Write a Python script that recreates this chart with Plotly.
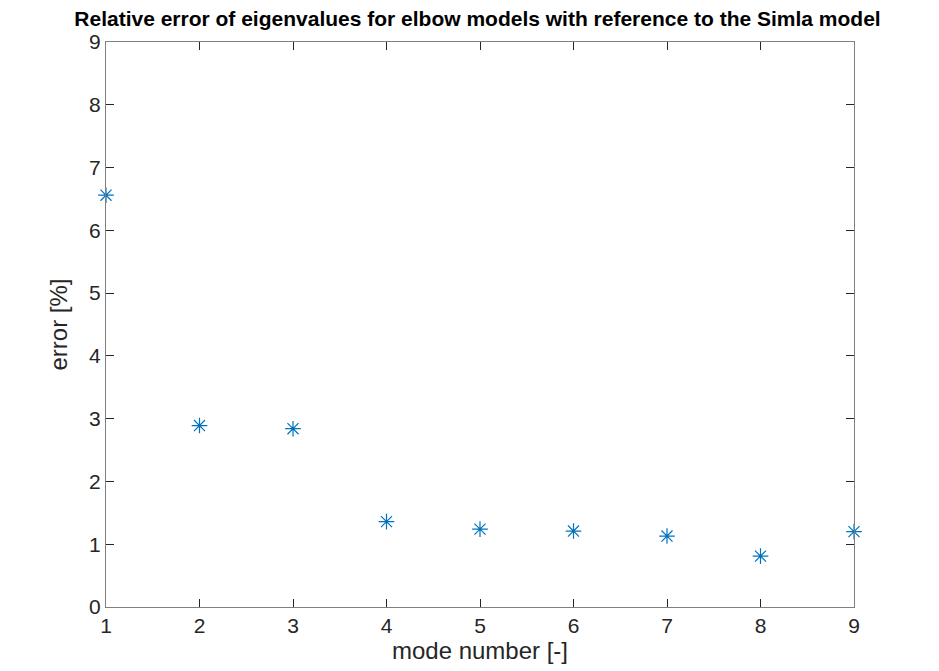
import plotly.graph_objects as go

mode_number = [1, 2, 3, 4, 5, 6, 7, 8, 9]
error_pct = [6.56, 2.89, 2.84, 1.36, 1.24, 1.21, 1.13, 0.81, 1.20]
x_ticks = [1, 2, 3, 4, 5, 6, 7, 8, 9]
y_ticks = [0, 1, 2, 3, 4, 5, 6, 7, 8, 9]

FONT = "Liberation Sans, Arial, Helvetica"

fig = go.Figure()
fig.add_trace(go.Scatter(
    x=mode_number, y=error_pct, mode="markers",
    marker=dict(symbol="asterisk-open", size=13, color="#0072BD",
                line=dict(width=1.2, color="#0072BD")),
    cliponaxis=False, showlegend=False,
))

axis_common = dict(
    showline=True, linecolor="#808080", linewidth=1, mirror="ticks",
    ticks="inside", ticklen=8, tickcolor="#262626", tickwidth=1,
    showgrid=False, zeroline=False,
    tickfont=dict(family=FONT, size=21, color="#262626"),
)

fig.update_layout(
    width=939, height=671,
    paper_bgcolor="white", plot_bgcolor="white",
    margin=dict(l=98, r=93, t=34, b=72),
    title=dict(text="<b>Relative error of eigenvalues for elbow models with reference to the Simla model</b>",
               x=0.5, xanchor="center", y=0.995, yanchor="top",
               font=dict(family=FONT, size=21, color="black")),
    xaxis=dict(range=[1, 9], tickvals=x_ticks, ticktext=[str(v) for v in x_ticks],
               title=dict(text="mode number [-]", standoff=4,
                          font=dict(family=FONT, size=24, color="#262626")),
               **axis_common),
    yaxis=dict(range=[0, 9], tickvals=y_ticks, ticktext=[str(v) for v in y_ticks],
               title=dict(text="error [%]", standoff=14,
                          font=dict(family=FONT, size=24, color="#262626")),
               **axis_common),
)

fig.write_html("out.html")
